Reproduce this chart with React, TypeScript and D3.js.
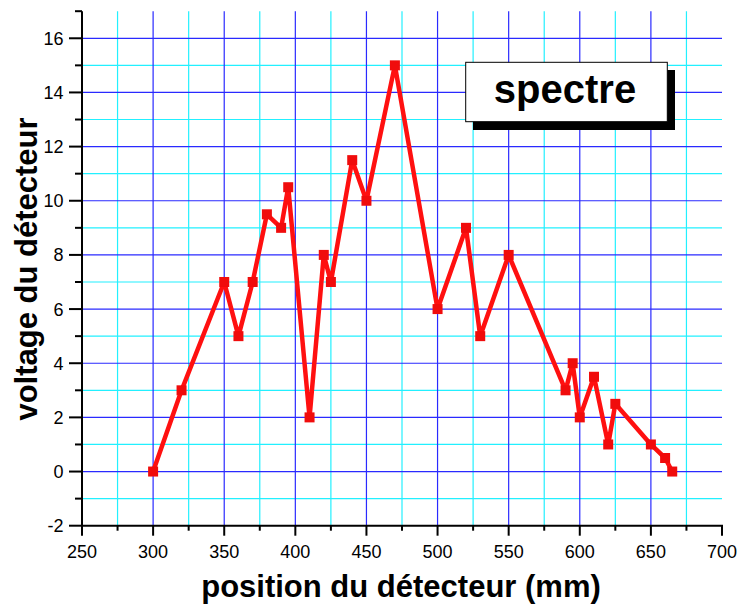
import React from "react";
import * as d3 from "d3";

const positions = [300, 320, 350, 360, 370, 380, 390, 395, 410, 420, 425, 440, 450, 470, 500, 520, 530, 550, 590, 595, 600, 610, 620, 625, 650, 660, 665];
const voltages = [0, 3, 7, 5, 7, 9.5, 9, 10.5, 2, 8, 7, 11.5, 10, 15, 6, 9, 5, 8, 3, 4, 2, 3.5, 1, 2.5, 1, 0.5, 0];
const xTicks = [250, 300, 350, 400, 450, 500, 550, 600, 650, 700];
const yTicks = [-2, 0, 2, 4, 6, 8, 10, 12, 14, 16];
const xMinor = [275, 325, 375, 425, 475, 525, 575, 625, 675];
const yMinor = [-1, 1, 3, 5, 7, 9, 11, 13, 15, 17];
const legendLabel = "spectre";
const xTitle = "position du détecteur (mm)";
const yTitle = "voltage du détecteur";

const W = 742;
const H = 605;
const left = 82;
const right = 722;
const top = 11.2;
const bottom = 525.7;
const FONT = "'Liberation Sans', Arial, sans-serif";

export default function App() {
  const x = d3.scaleLinear().domain([250, 700]).range([left, right]);
  const y = d3.scaleLinear().domain([-2, 17]).range([bottom, top]);
  const pts = positions.map((p, i) => [p, voltages[i]] as [number, number]);
  const line = d3.line<[number, number]>().x((d) => x(d[0])).y((d) => y(d[1]));
  const blue = "#2a2aff";
  const cyan = "#22f0ff";

  return (
    <svg width={W} height={H} style={{ position: "absolute", left: 0, top: 0, background: "#fff" }}>
      <rect x={0} y={0} width={W} height={H} fill="#fff" />
      {/* minor grid */}
      {xMinor.map((v) => (
        <line key={"xm" + v} x1={x(v)} x2={x(v)} y1={top} y2={bottom} stroke={cyan} strokeWidth={1.2} />
      ))}
      {yMinor.filter((v) => v < 17).map((v) => (
        <line key={"ym" + v} x1={left} x2={right} y1={y(v)} y2={y(v)} stroke={cyan} strokeWidth={1.2} />
      ))}
      {/* major grid */}
      {xTicks.filter((v) => v > 250 && v < 700).map((v) => (
        <line key={"xg" + v} x1={x(v)} x2={x(v)} y1={top} y2={bottom} stroke={blue} strokeWidth={1.2} />
      ))}
      {yTicks.filter((v) => v > -2).map((v) => (
        <line key={"yg" + v} x1={left} x2={right} y1={y(v)} y2={y(v)} stroke={blue} strokeWidth={1.2} />
      ))}
      {/* axes */}
      <line x1={left} x2={left} y1={top} y2={bottom + 1} stroke="#000" strokeWidth={2} />
      <line x1={left - 1} x2={right + 1} y1={bottom} y2={bottom} stroke="#000" strokeWidth={2} />
      {yTicks.map((v) => (
        <g key={"yt" + v}>
          <line x1={left - 13} x2={left} y1={y(v)} y2={y(v)} stroke="#000" strokeWidth={2} />
          <text x={63.5} y={y(v)} dy="0.36em" textAnchor="end" fontFamily={FONT} fontSize={18} fill="#000">
            {v}
          </text>
        </g>
      ))}
      {yMinor.map((v) => (
        <line key={"ymt" + v} x1={left - 7} x2={left} y1={y(v)} y2={y(v)} stroke="#000" strokeWidth={2} />
      ))}
      {xTicks.map((v) => (
        <g key={"xt" + v}>
          <line x1={x(v)} x2={x(v)} y1={bottom} y2={bottom + 10} stroke="#000" strokeWidth={2} />
          <text x={x(v)} y={557.7} textAnchor="middle" fontFamily={FONT} fontSize={18} fill="#000">
            {v}
          </text>
        </g>
      ))}
      {xMinor.map((v) => (
        <line key={"xmt" + v} x1={x(v)} x2={x(v)} y1={bottom} y2={bottom + 5} stroke="#000" strokeWidth={2} />
      ))}
      {/* titles */}
      <text x={401} y={597} textAnchor="middle" fontFamily={FONT} fontSize={31} fontWeight="bold" fill="#000">
        {xTitle}
      </text>
      <text
        transform={`translate(37,269) rotate(-90)`}
        textAnchor="middle"
        fontFamily={FONT}
        fontSize={31}
        fontWeight="bold"
        fill="#000"
      >
        {yTitle}
      </text>
      {/* data */}
      <path d={line(pts) || ""} fill="none" stroke="#ff1010" strokeWidth={4.5} strokeLinejoin="round" />
      {pts.map((d, i) => (
        <rect key={"p" + i} x={x(d[0]) - 5} y={y(d[1]) - 5} width={10} height={10} fill="#f00c0c" />
      ))}
      {/* legend */}
      <rect x={473} y={70} width={202} height={60} fill="#000" />
      <rect x={465.7} y={62.3} width={201.6} height={59.4} fill="#fff" stroke="#000" strokeWidth={1} />
      <text x={565} y={103.3} textAnchor="middle" fontFamily={FONT} fontSize={40} fontWeight="bold" fill="#000">
        {legendLabel}
      </text>
    </svg>
  );
}
